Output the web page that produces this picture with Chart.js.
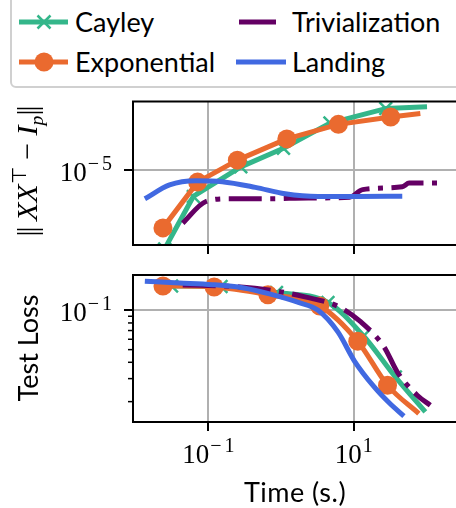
<!DOCTYPE html>
<html>
<head>
<meta charset="utf-8">
<title>Orthogonality error and test loss vs time</title>
<script src="https://cdn.jsdelivr.net/npm/chart.js@4.4.1/dist/chart.umd.min.js"></script>
<style>
  html, body { margin: 0; padding: 0; background: #fff; }
  body { position: relative; width: 456px; height: 508px; overflow: hidden; font-family: Lato, sans-serif; color: #000; }
  canvas { position: absolute; left: 0; }
  #normChart { top: 90px; }
  #lossChart { top: 260px; }
  .leg-box { position: absolute; left: 10px; top: -14px; width: 480px; height: 102px; box-sizing: border-box;
             border: 2px solid #d0d0d0; border-radius: 6px; background: #fff; }
  .leg-txt { position: absolute; font-size: 27px; line-height: 27px; white-space: nowrap; }
  .lab { position: absolute; white-space: nowrap; line-height: 1; transform: translate(-50%, -50%) rotate(-90deg); }
  .math { font-family: "Liberation Serif", serif; font-size: 30px; }
  .math sup, .math sub { font-size: 0.66em; line-height: 0; }
  .math sup { vertical-align: 0.55em; }
  .math sub { vertical-align: -0.3em; }
  .bars { letter-spacing: -2px; }
</style>
</head>
<body>
<div class="leg-box"></div>
<svg id="legHandles" width="456" height="90" style="position:absolute;left:0;top:0"></svg>
<div class="leg-txt" style="left:75px;top:8px">Cayley</div>
<div class="leg-txt" style="left:75px;top:48px">Exponential</div>
<div class="leg-txt" style="left:292px;top:8px">Trivialization</div>
<div class="leg-txt" style="left:292px;top:48px">Landing</div>

<canvas id="normChart" width="470" height="170"></canvas>
<canvas id="lossChart" width="470" height="248"></canvas>

<div class="lab math" style="left:27px;top:172px"><span class="bars">||</span> <i>XX</i><sup>⊤</sup> − <i>I</i><sub><i>p</i></sub><span class="bars">||</span></div>
<div class="lab" style="left:27px;top:348px;font-size:27px">Test Loss</div>
<div class="lab" style="left:295px;top:491px;font-size:27px;letter-spacing:0.5px;transform:translate(-50%,-50%)">Time (s.)</div>

<script>
// ---- data (time in seconds) ----
const xTicks = [0.1, 10];
const normTicks = [1e-5];
const lossTicks = [0.1];
const lossMinorTicks = [0.02, 0.03, 0.04, 0.05, 0.06, 0.07, 0.08, 0.09];

// top panel: ||X X^T - I_p||
const cayleyNormT = [0.0249, 0.0618, 0.279, 1.08, 4.72, 27.7, 102.6];
const cayleyNormV = [3.62e-6, 7.13e-6, 1.045e-5, 1.33e-5, 1.84e-5, 2.22e-5, 2.27e-5];
const expNormT = [0.0236, 0.0708, 0.250, 1.20, 6.17, 32.4, 83.0];
const expNormV = [4.75e-6, 8.58e-6, 1.14e-5, 1.50e-5, 1.81e-5, 1.99e-5, 2.08e-5];
const trivNormT = [0.0442, 0.0922, 0.191, 0.673, 2.37, 8.77, 13.3, 46.8, 58.2, 149];
const trivNormV = [5.05e-6, 6.68e-6, 6.92e-6, 6.92e-6, 6.99e-6, 7.06e-6, 7.79e-6, 8.09e-6, 8.47e-6, 8.47e-6];
const landNormT = [0.01328, 0.0291, 0.0673, 0.155, 0.443, 1.138, 3.24, 11.4, 46.8];
const landNormV = [6.92e-6, 8.28e-6, 8.74e-6, 8.63e-6, 8.02e-6, 7.38e-6, 7.13e-6, 7.13e-6, 7.15e-6];

// bottom panel: test loss
const cayleyLossT = [0.0310, 0.149, 0.865, 4.43, 13.7, 37.6, 97.3];
const cayleyLossV = [0.1535, 0.152, 0.1367, 0.1148, 0.0636, 0.0309, 0.01667];
const expLossT = [0.0236, 0.1197, 0.659, 3.41, 11.4, 29.3, 79.1];
const expLossV = [0.1535, 0.1507, 0.1316, 0.1079, 0.0579, 0.0267, 0.0162];
const trivLossT = [0.0442, 0.2366, 0.923, 2.13, 6.07, 12.6, 26.3, 40.0, 75.0, 113.8];
const trivLossV = [0.1563, 0.1517, 0.1396, 0.1265, 0.1073, 0.0814, 0.0524, 0.0337, 0.0224, 0.01876];
const landLossT = [0.01328, 0.0398, 0.1135, 0.307, 0.673, 1.73, 3.24, 6.07, 10.26, 19.2, 31.1, 49.3];
const landLossV = [0.1667, 0.1618, 0.1571, 0.1482, 0.1340, 0.1148, 0.1, 0.0683, 0.0409, 0.0259, 0.0195, 0.0155];

const COL = { cayley: '#34b68a', exp: '#ea6a2f', triv: '#640064', land: '#4169e1' };
const GRID = '#b0b0b0';
const SERIF = '"Liberation Serif", serif';

// ---- legend handles ----
(function () {
  const svg = document.getElementById('legHandles');
  svg.innerHTML =
    `<line x1="19" y1="22" x2="68" y2="22" stroke="${COL.cayley}" stroke-width="5"/>` +
    `<path d="M37.5 15.5 L50.5 28.5 M50.5 15.5 L37.5 28.5" stroke="${COL.cayley}" stroke-width="2.5"/>` +
    `<line x1="19" y1="62" x2="68" y2="62" stroke="${COL.exp}" stroke-width="5"/>` +
    `<circle cx="44" cy="62" r="9.5" fill="${COL.exp}"/>` +
    `<line x1="239" y1="22" x2="276" y2="22" stroke="${COL.triv}" stroke-width="5"/>` +
    `<line x1="236" y1="62" x2="286" y2="62" stroke="${COL.land}" stroke-width="5"/>`;
})();

// ---- helpers ----
function pts(t, v) { return t.map((x, i) => ({ x, y: v[i] })); }
const markAllButLast = r => ctx => (ctx.dataIndex < ctx.dataset.data.length - 1 ? r : 0);

function datasets(cT, cV, eT, eV, tT, tV, lT, lV, smooth) {
  return [
    { label: 'Cayley', data: pts(cT, cV), order: 4, borderColor: COL.cayley, borderWidth: 5,
      pointStyle: 'crossRot', pointRadius: markAllButLast(9), pointBorderWidth: 2.5,
      pointBorderColor: COL.cayley, pointBackgroundColor: COL.cayley,
      cubicInterpolationMode: smooth ? 'monotone' : 'default', tension: 0 },
    { label: 'Exponential', data: pts(eT, eV), order: 3, borderColor: COL.exp, borderWidth: 5,
      pointStyle: 'circle', pointRadius: markAllButLast(9.5), pointBorderWidth: 0,
      pointBackgroundColor: COL.exp, pointBorderColor: COL.exp,
      cubicInterpolationMode: smooth ? 'monotone' : 'default', tension: 0 },
    { label: 'Trivialization', data: pts(tT, tV), order: 2, borderColor: COL.triv, borderWidth: 5,
      borderDash: [33, 8.5, 5, 8.5], borderCapStyle: 'butt', pointRadius: 0,
      cubicInterpolationMode: 'monotone' },
    { label: 'Landing', data: pts(lT, lV), order: 1, borderColor: COL.land, borderWidth: 5,
      pointRadius: 0, cubicInterpolationMode: 'monotone' }
  ];
}

function drawPow(ctx, v, x, y, align) {
  const e = Math.round(Math.log10(v));
  ctx.textAlign = 'left';
  ctx.textBaseline = 'alphabetic';
  ctx.font = '27px ' + SERIF;
  const wb = ctx.measureText('10').width;
  ctx.font = '20px ' + SERIF;
  const wm = e < 0 ? ctx.measureText('−').width + 3 : 0;
  const wd = ctx.measureText(String(Math.abs(e))).width;
  const w = wb + 1 + wm + wd;
  const x0 = align === 'right' ? x - w : x - w / 2;
  ctx.font = '27px ' + SERIF;
  ctx.fillText('10', x0, y);
  ctx.font = '20px ' + SERIF;
  if (e < 0) ctx.fillText('−', x0 + wb + 1, y - 11);
  ctx.fillText(String(Math.abs(e)), x0 + wb + 1 + wm, y - 11);
}

const axisDecor = {
  id: 'axisDecor',
  afterDatasetsDraw(chart, args, o) {
    const { ctx, chartArea: a } = chart;
    ctx.save();
    ctx.strokeStyle = '#000';
    ctx.lineWidth = 2;
    ctx.strokeRect(a.left, a.top, a.right - a.left, a.bottom - a.top);
    if (o.minor) {
      ctx.lineWidth = 1.5;
      o.minor.forEach(v => {
        const py = chart.scales.y.getPixelForValue(v);
        ctx.beginPath();
        ctx.moveTo(a.left - 5, py);
        ctx.lineTo(a.left, py);
        ctx.stroke();
      });
    }
    ctx.restore();
  },
  afterDraw(chart, args, o) {
    const { ctx, chartArea: a } = chart;
    ctx.save();
    ctx.fillStyle = '#000';
    (o.yLabels || []).forEach(v => {
      const py = chart.scales.y.getPixelForValue(v);
      drawPow(ctx, v, a.left - 21, py + 10.5, 'right');
    });
    if (o.xLabels) {
      xTicks.forEach(v => {
        const px = chart.scales.x.getPixelForValue(v);
        drawPow(ctx, v, px, a.bottom + 40.5, 'center');
      });
    }
    ctx.restore();
  }
};

function makeChart(id, sets, yMin, yMax, yTicks, xAxisH, padTop, decor) {
  const grid = { color: GRID, lineWidth: 2, tickColor: '#000', tickWidth: 2, tickLength: 9 };
  return new Chart(document.getElementById(id), {
    type: 'line',
    data: { datasets: sets },
    options: {
      responsive: false,
      animation: false,
      devicePixelRatio: 1,
      datasets: { line: { clip: 0, borderJoinStyle: 'round' } },
      layout: { padding: { top: padTop, right: 8, left: 0, bottom: 0 } },
      scales: {
        x: {
          type: 'logarithmic', min: 0.00912, max: 278.6,
          afterBuildTicks: s => { s.ticks = xTicks.map(v => ({ value: v })); },
          afterFit: s => { s.height = xAxisH; },
          ticks: { display: false },
          grid, border: { display: false }
        },
        y: {
          type: 'logarithmic', min: yMin, max: yMax,
          afterBuildTicks: s => { s.ticks = yTicks.map(v => ({ value: v })); },
          afterFit: s => { s.width = 133; },
          ticks: { display: false },
          grid, border: { display: false }
        }
      },
      plugins: { legend: { display: false }, tooltip: { enabled: false }, axisDecor: decor }
    },
    plugins: [axisDecor]
  });
}

makeChart('normChart',
  datasets(cayleyNormT, cayleyNormV, expNormT, expNormV, trivNormT, trivNormV, landNormT, landNormV, false),
  3.807e-6, 2.432e-5, normTicks, 15, 10,
  { yLabels: normTicks, xLabels: false });

makeChart('lossChart',
  datasets(cayleyLossT, cayleyLossV, expLossT, expLossV, trivLossT, trivLossV, landLossT, landLossV, true),
  0.01397, 0.1862, lossTicks, 86, 15,
  { yLabels: lossTicks, xLabels: true, minor: lossMinorTicks });
</script>
</body>
</html>
